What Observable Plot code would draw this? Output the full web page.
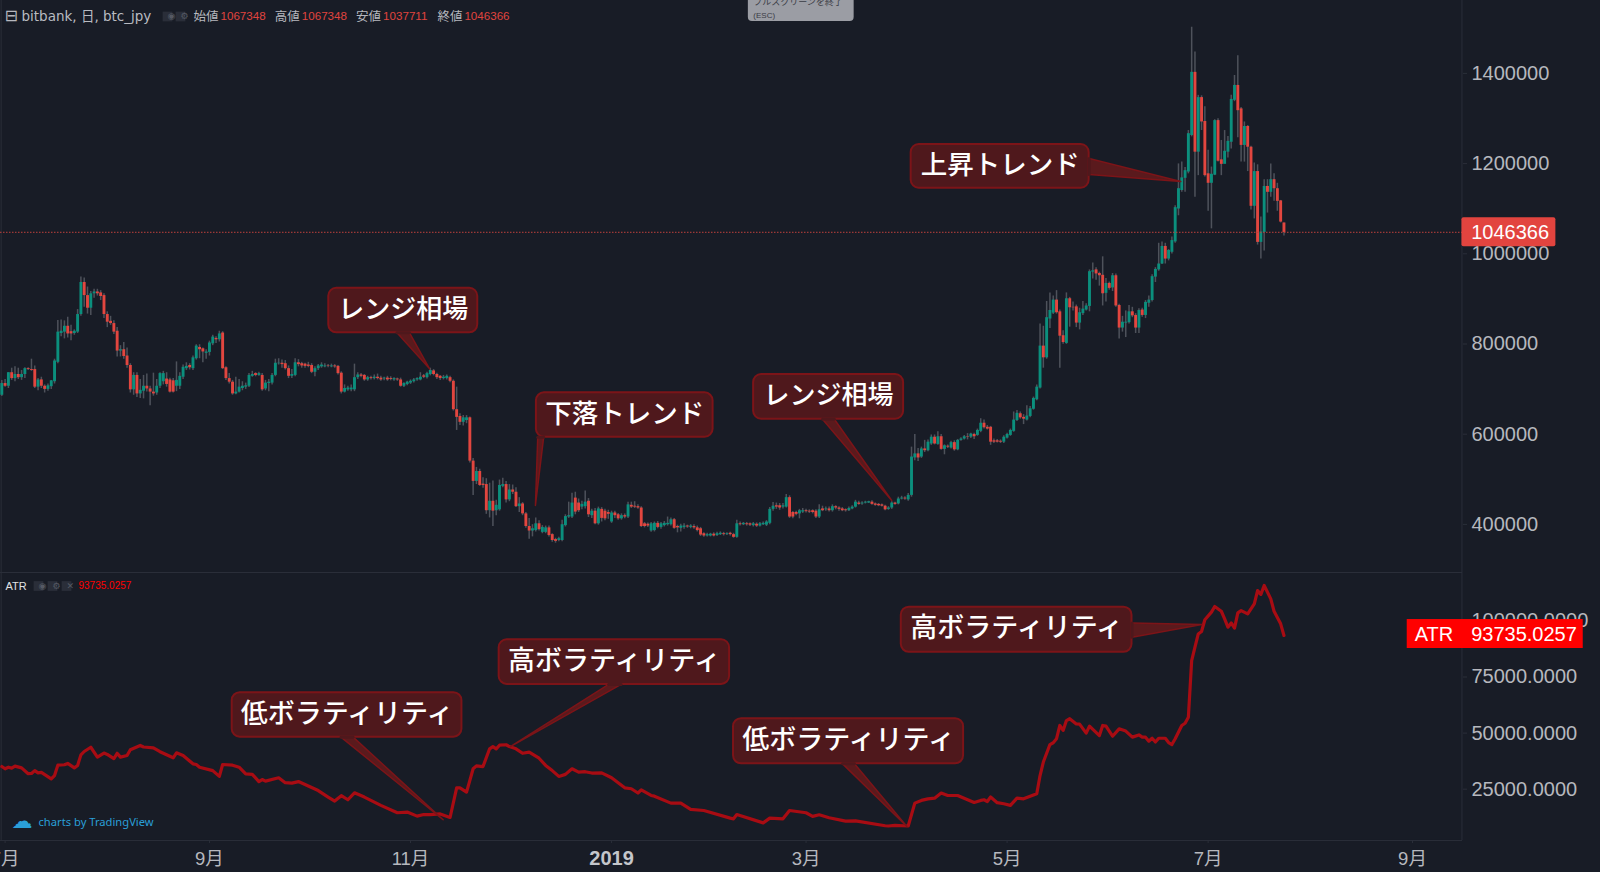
<!DOCTYPE html>
<html lang="ja">
<head>
<meta charset="utf-8">
<script src="https://cdn.jsdelivr.net/npm/d3@7"></script>
<script src="https://cdn.jsdelivr.net/npm/@observablehq/plot@0.6"></script>
<style>
html,body{margin:0;padding:0;background:#181c26;overflow:hidden}
svg{display:block}
</style>
</head>
<body>
<div id="chart"></div>
<script>
// OHLC in thousands of yen, one entry per day from 2018-06-30
const opens=[685,711,705,735,722,731,724,731,744,742,
742,703,719,705,698,704,715,758,822,825,
838,826,822,825,864,935,906,878,910,914,
912,906,864,849,844,827,783,786,772,751,
697,729,688,694,705,699,692,690,705,715,
721,719,717,705,705,725,744,751,744,766,
791,788,778,780,799,811,808,823,746,722,
714,688,692,700,703,705,727,733,729,729,
699,711,712,729,755,756,755,744,727,729,
757,755,754,752,751,736,744,748,748,750,
748,750,749,734,692,697,697,697,724,730,
729,719,724,722,725,723,721,723,722,719,
721,719,705,709,712,715,719,719,728,724,
731,739,731,727,722,722,724,716,653,638,
625,629,635,539,494,516,488,487,429,450,
429,431,483,487,453,475,470,438,444,422,
394,384,385,400,381,381,391,376,365,363,
363,396,415,415,457,446,437,438,450,418,
428,400,432,428,425,404,424,420,411,418,
415,441,439,438,435,400,399,384,385,401,
392,396,398,398,409,394,390,392,395,392,
394,391,389,378,373,373,377,374,376,378,
376,379,376,370,400,398,400,400,396,399,
395,398,397,401,432,440,440,437,437,458,
425,425,422,426,429,428,429,428,415,433,
431,433,429,438,435,433,431,429,433,437,
446,444,446,446,448,444,443,442,439,432,
435,446,444,455,457,453,463,546,555,548,
566,562,577,592,576,593,565,572,568,580,
564,585,588,593,592,598,596,605,623,614,
614,584,584,583,581,590,596,605,629,644,
636,630,638,654,675,701,794,768,854,867,
896,870,817,800,899,880,881,845,866,874,
882,958,963,955,951,911,933,923,950,884,
834,845,846,870,862,834,874,862,889,895,
947,963,976,1015,987,1002,1025,1098,1139,1166,
1180,1261,1401,1224,1345,1292,1176,1155,1173,1294,
1207,1197,1224,1246,1339,1372,1320,1239,1281,1235,
1104,1181,1024,1046,1148,1135,1163,1143,1116,1067];
const highs=[718,720,735,745,748,745,740,746,746,765,
750,722,725,708,710,718,765,851,852,850,
858,840,830,875,947,945,925,915,920,920,
917,910,870,860,850,835,795,802,790,755,
735,735,720,729,732,705,734,720,735,738,
735,723,722,759,735,752,757,755,772,797,
797,790,786,805,818,815,827,826,748,733,
718,725,720,715,712,733,738,735,736,733,
718,720,733,765,766,763,762,750,742,766,
764,758,756,758,755,748,753,757,755,753,
754,753,751,737,708,705,708,754,735,733,
731,727,727,730,732,727,725,727,726,724,
723,723,713,716,719,722,724,735,731,736,
745,742,734,729,729,730,727,719,703,644,
640,640,637,545,525,521,502,500,490,495,
452,497,501,494,487,486,480,458,447,425,
412,398,413,407,396,395,395,378,368,370,
408,420,448,468,470,455,450,473,456,432,
434,437,436,432,430,428,428,423,422,422,
448,448,449,442,438,403,402,403,404,405,
403,405,415,413,412,397,399,400,397,398,
398,395,392,380,379,379,380,381,382,381,
380,381,379,408,404,403,403,402,403,402,
403,404,407,436,447,446,445,445,465,462,
427,428,432,434,432,431,431,431,442,439,
437,437,442,440,438,436,433,437,440,452,
450,449,450,450,451,446,445,444,441,438,
449,448,459,461,460,467,570,598,567,570,
585,586,597,597,604,598,575,575,583,584,
587,591,596,600,601,601,610,633,630,618,
616,588,587,586,595,601,610,648,651,648,
642,662,660,681,708,843,838,893,912,905,
917,874,828,912,902,892,885,878,893,888,
963,978,968,958,992,944,936,955,954,887,
860,872,884,880,866,877,878,895,905,952,
968,1022,1025,1022,1008,1036,1105,1198,1202,1190,
1272,1501,1446,1350,1349,1325,1228,1191,1296,1298,
1250,1272,1259,1350,1394,1438,1323,1291,1283,1237,
1200,1196,1080,1163,1163,1198,1176,1155,1117,1067];
const lows=[682,703,700,718,715,720,718,722,740,738,
700,695,700,690,694,698,710,755,815,810,
812,806,818,822,860,880,865,862,900,905,
895,855,835,840,820,770,770,765,745,690,
685,680,678,677,692,662,683,685,700,708,
703,690,690,693,698,720,740,741,740,763,
766,757,765,772,795,800,803,742,718,710,
685,686,690,695,698,702,725,726,727,694,
695,693,708,726,752,745,741,722,722,726,
748,745,745,746,733,726,740,745,746,746,
746,745,730,688,690,694,693,693,720,724,
716,716,719,719,719,716,717,716,717,716,
716,703,702,706,709,712,716,717,722,721,
728,728,720,718,719,719,713,650,607,618,
617,622,535,463,487,483,479,421,413,394,
418,428,480,446,449,465,436,425,418,390,
366,371,382,384,378,378,371,359,357,360,
360,393,412,412,420,425,431,433,414,412,
398,397,404,407,410,401,412,408,408,411,
412,434,434,432,392,391,392,381,382,389,
388,393,395,395,388,380,382,388,390,389,
388,382,372,370,371,371,371,372,374,373,
374,373,368,368,395,396,395,394,393,392,
393,396,394,398,428,432,430,433,435,412,
411,418,411,423,424,423,422,412,412,427,
428,426,426,431,428,427,426,427,431,435,
441,441,444,445,441,439,438,437,429,430,
432,441,442,453,452,450,459,540,538,545,
558,560,574,575,574,563,553,567,566,561,
562,583,586,586,589,587,594,602,610,608,
574,578,579,578,578,588,594,603,627,632,
620,628,635,652,673,699,745,765,833,864,
865,745,798,798,836,872,835,830,862,872,
870,943,940,927,883,892,918,915,880,810,
825,813,843,857,822,822,858,855,880,892,
935,960,975,976,983,998,1022,1083,1135,1135,
1176,1258,1124,1172,1272,1169,1093,1054,1172,1202,
1172,1211,1211,1231,1336,1256,1202,1202,1181,1096,
1076,1018,987,1005,1089,1124,1115,1093,1067,1038];
const closes=[711,705,735,722,731,724,731,744,742,740,
703,719,705,698,706,717,761,825,827,838,
821,821,827,864,935,906,878,910,914,910,
904,864,847,844,825,783,786,771,751,697,
729,688,696,705,699,692,688,705,733,733,
709,692,692,718,727,747,749,746,768,794,
786,781,781,801,814,808,821,744,722,714,
688,692,703,705,706,729,731,729,733,697,
712,714,729,756,756,753,744,727,731,757,
753,750,749,749,736,744,750,752,750,749,
750,748,733,692,700,701,701,724,730,727,
719,724,722,725,722,719,723,719,720,722,
719,705,711,714,716,719,722,725,725,733,
740,731,724,722,725,727,716,653,636,625,
635,635,539,494,516,485,485,429,450,428,
441,485,487,453,475,470,438,444,422,394,
384,389,400,387,392,391,374,363,361,367,
398,416,418,446,426,429,443,448,420,428,
400,433,412,411,421,424,418,411,418,415,
442,437,437,435,394,394,395,400,401,392,
400,401,401,409,390,391,395,395,393,395,
391,385,375,373,376,377,373,378,379,376,
378,376,370,400,398,401,398,397,400,395,
400,401,404,432,439,437,435,440,458,415,
415,421,429,429,427,426,425,415,431,429,
433,429,438,435,432,429,429,434,437,448,
443,446,448,449,443,441,440,439,431,435,
446,443,455,457,455,463,548,555,546,566,
562,581,592,577,593,565,573,570,580,564,
585,588,593,592,599,593,607,623,613,610,
581,581,581,581,592,598,607,630,645,635,
632,639,655,678,703,794,768,857,873,896,
868,816,802,899,879,879,845,868,876,883,
959,961,954,950,910,933,922,950,883,834,
847,847,870,861,834,873,862,891,896,948,
964,976,1015,987,1006,1028,1101,1143,1167,1183,
1265,1401,1224,1345,1291,1172,1155,1175,1294,1204,
1197,1226,1248,1341,1372,1316,1239,1281,1235,1104,
1181,1024,1047,1148,1135,1163,1143,1115,1069,1046];
const lastClose=1046.366;
// ATR in thousands, read at the line's vertices (day index from 2018-06-30)
const atrDays=[0,1,2,3,4,6,8,9,10,11,12,15,16,17,19,20,22,23,24,25,27,29,31,32,34,35,36,38,39,42,43,46,48,52,53,55,58,59,60,64,66,67,70,72,74,76,78,79,80,84,86,88,90,96,99,101,103,105,107,110,115,120,123,126,128,130,133,136,138,139,141,143,144,146,
148,149,150,151,153,154,156,158,160,163,165,167,169,171,173,175,177,179,182,185,189,191,193,194,197,198,203,206,209,213,221,222,223,231,233,237,239,244,246,248,251,256,259,268,269,271,275,277,279,281,283,285,287,290,295,
297,298,299,300,302,304,306,308,310,314,315,316,318,319,320,321,322,323,324,326,327,329,330,333,334,335,337,339,341,343,345,346,347,348,349,350,351,353,354,355,356,358,359,360,361,362,363,364,365,367,368,370,371,372,373,374,375,376,378,380,381,382,383,385,386,388,389];
const atrValues=[35.1,34.1,34.8,34.4,35.3,34.5,31.9,32,33.3,32.3,32.5,29.6,31.1,35.7,35.9,36.5,34.5,35.6,40.3,41.8,43.7,39.3,41.1,40.5,38.6,41,39.3,40,42.6,44.5,43.8,43.4,41.7,39,41.2,40,36.3,36,34.8,33.3,30.7,36,35.7,34.8,31.8,31.6,28.4,29.3,28.6,30.1,27.9,27.7,28.4,24.4,21.5,19.7,22.1,20.3,23.4,21.5,17.8,14.5,14.8,13,13.7,13.7,14,12.4,25.6,25.6,23.7,34.1,35.4,35.1,
43,44,43,44.6,44.8,44,43,41,41.5,38.8,35.6,33.3,30.7,31.6,34.1,32.6,32.8,32.2,32.3,30.1,25.6,25.2,23.3,24.7,22.2,21.9,18.8,18.8,16,15.5,12.1,11.8,13.7,10,12.1,11.8,15.5,14.5,12.9,13.6,12.3,10.8,10.9,8.7,8.6,8.9,8.6,18.8,20,20.7,21,23.3,22.2,22.2,19.1,
20,20.3,19.5,21.5,19,18.5,17.8,21,20.7,23,31.1,37.1,44.9,45.7,47.5,53.4,51.2,55.6,56.4,54.1,54,50,53.1,48.9,53.4,53.1,48.6,51.9,50.9,48.2,49.2,48.2,48.2,46.4,47.7,46,47.7,47.7,45.8,44.9,47.5,53.4,54.4,57.1,82.3,88.3,94.2,95.3,100.5,103.9,106.4,104.3,100.9,97.2,99.1,96.8,103.6,104.6,103.1,107.6,113.5,111.8,115.8,109.8,104.3,98.7,93.5];
const priceTicks=[400,600,800,1000,1200,1400];
const atrTicks=[25,50,75,100];
const monthTicks=[[2018,6],[2018,8],[2018,10],[2019,2],[2019,4],[2019,6],[2019,8]];
const yearTick=[2019,0];
const headerLegend=[["始値","1067348"],["高値","1067348"],["安値","1037711"],["終値","1046366"]];
// callouts: box in (days from 2018-07-01, chart value), tail as base, tip, base
const priceCallouts=[
 {label:"レンジ相場",d:[98.2,143.4],v:[823.5,922.3],tail:[[118.9,823.5],[128.8,743.6],[122.7,823.5]]},
 {label:"下落トレンド",d:[161.2,214.8],v:[592,690.4],tail:[[161.6,592],[160.9,440.6],[163.4,592]]},
 {label:"レンジ相場",d:[227.1,272.6],v:[631.9,731],tail:[[248,631.9],[269,451.7],[251.6,631.9]]},
 {label:"上昇トレンド",d:[274.9,328.9],v:[1144,1240.9],tail:[[328.9,1209.9],[356.7,1158.9],[328.9,1174.4]]}];
const atrCallouts=[
 {label:"低ボラティリティ",d:[68.9,138.6],v:[48.2,68],tail:[[101.9,48.2],[132.9,11.4],[105.6,48.2]]},
 {label:"高ボラティリティ",d:[149.9,219.8],v:[71.7,91.6],tail:[[183.1,71.7],[153.3,44],[186.9,71.7]]},
 {label:"低ボラティリティ",d:[221,290.8],v:[36.3,56.4],tail:[[254.1,36.3],[273.6,8.4],[257.7,36.3]]},
 {label:"高ボラティリティ",d:[271.9,341.9],v:[86,106.1],tail:[[341.9,99.1],[363.1,98.4],[341.9,92.7]]}];

const BG="#181c26",GREEN="#0b8f7d",RED="#e2463f",GRID="#2a2e39",TXT="#b6b8be";
const SANS='"Liberation Sans","Noto Sans CJK JP",sans-serif';
const CJK='"Noto Sans CJK JP","Noto Sans",sans-serif';
const UI='"DejaVu Sans","Noto Sans CJK JP",sans-serif';
const candleDate=i=>new Date(Date.UTC(2018,5,30+i));
const dayDate=d=>new Date(Date.UTC(2018,6,1)+d*864e5);
const candles=opens.map((o,i)=>({date:candleDate(i),o,h:highs[i],l:lows[i],c:closes[i]}));
const atr=atrDays.map((d,i)=>({date:candleDate(d),v:atrValues[i]}));
const xScale=axis=>({type:"utc",domain:[new Date(Date.UTC(2018,6,1)),new Date(Date.UTC(2019,8,1))],range:[4.6,1412],axis});
const common={width:1600,marginLeft:0,marginRight:138,marginTop:0,style:{background:BG,display:"block",overflow:"hidden"}};
const labelSize=s=>s.length>=8?27:s.length===6?26.5:26;

function callout(c){
  const pts=c.tail.map(([d,v])=>({x:dayDate(d),y:v}));
  return [
    Plot.line(pts,{x:"x",y:"y",fill:"#5a1a1d",stroke:"#7c1418",strokeWidth:1.5}),
    Plot.rect([c],{x1:e=>dayDate(e.d[0]),x2:e=>dayDate(e.d[1]),y1:e=>e.v[0],y2:e=>e.v[1],rx:8,ry:8,fill:"#4f181c",stroke:"#7c1418",strokeWidth:2}),
    Plot.line([pts[0],pts[2]],{x:"x",y:"y",stroke:"#4f181c",strokeWidth:3}),
    Plot.text([c],{x:e=>dayDate((e.d[0]+e.d[1])/2),y:e=>(e.v[0]+e.v[1])/2,dy:-1,text:"label",fontSize:labelSize(c.label),fontWeight:500,fontFamily:CJK,fill:"#fff"})
  ];
}
const corner=(text,dx,dy,o={})=>Plot.text([text],{text:d=>d,frameAnchor:"top-left",dx,dy,textAnchor:"start",lineAnchor:"middle",fontFamily:UI,fontSize:12,fill:TXT,...o});
const chip=(dx,dy,r=5.5,fill="#2a2e39")=>Plot.dot([0],{frameAnchor:"top-left",dx,dy,symbol:"square",r,fill,stroke:"none"});
const chipGlyph=(glyph,dx,dy)=>Plot.text([glyph],{text:d=>d,frameAnchor:"top-left",dx,dy,lineAnchor:"middle",fontFamily:'"DejaVu Sans"',fontSize:9,fill:"#555963"});

const legendMarks=headerLegend.flatMap(([k,v],i)=>[
  corner(k,193+i*81.3,16,{fontFamily:CJK,fontSize:12.5}),
  corner(v,220+i*81.3,16,{fontFamily:SANS,fontSize:11.6,fill:"#e0443e"})
]);

const priceChart=Plot.plot({...common,height:573,marginBottom:0,
  x:xScale(null),
  y:{domain:[400,1400],range:[523.3,72.3]},
  marks:[
    Plot.ruleX([dayDate(-1.2)],{stroke:GRID}),
    Plot.ruleX([dayDate(442)],{stroke:GRID}),
    Plot.ruleY([292],{stroke:GRID}),
    Plot.ruleX(candles,{x:"date",y1:"l",y2:"h",stroke:"#4e525b",strokeWidth:1.5}),
    Plot.ruleX(candles,{x:"date",y1:"o",y2:"c",stroke:d=>d.c>=d.o?GREEN:RED,strokeWidth:2.9}),
    Plot.ruleY([lastClose],{stroke:"#c0403c",strokeDasharray:"1.5,1.5",strokeWidth:1}),
    ...priceCallouts.flatMap(callout),
    Plot.axisY({anchor:"right",ticks:priceTicks,tickFormat:d=>String(d*1000),tickSize:4,tickPadding:5,dy:.6,stroke:GRID,fill:TXT,fontSize:20,fontFamily:SANS,label:null}),
    Plot.rect([0],{x1:()=>dayDate(442),x2:()=>dayDate(470.5),y1:()=>lastClose-32,y2:()=>lastClose+32,fill:"#e2443f",rx:2}),
    Plot.text([Math.round(lastClose*1000)],{x:()=>dayDate(444.8),y:()=>lastClose,text:d=>String(d),textAnchor:"start",fontSize:20,fontFamily:SANS,fill:"#fff"}),
    Plot.rect([0],{x1:()=>dayDate(225.5),x2:()=>dayDate(257.6),y1:()=>1513.6,y2:()=>1575,fill:"#9b9da4",rx:4}),
    Plot.text(["フルスクリーンを終了"],{text:d=>d,x:()=>dayDate(227),y:()=>1556,textAnchor:"start",fontSize:9,fontFamily:CJK,fill:"#3a3c44"}),
    Plot.text(["(ESC)"],{text:d=>d,x:()=>dayDate(227),y:()=>1527,textAnchor:"start",fontSize:8,fontFamily:SANS,fill:"#3a3c44"}),
    corner("⊟",4,15,{fontFamily:'"DejaVu Sans"',fontSize:16}),
    corner("bitbank, 日, btc_jpy",21,16,{fontSize:13.5,fill:"#b9bbc1"}),
    chip(167,16),chip(180,16),chipGlyph("◉",167,16),chipGlyph("⚙",180,16),
    ...legendMarks
  ]});

const atrChart=Plot.plot({...common,height:299,marginBottom:32,
  x:xScale(undefined),
  y:{domain:[25,100],range:[215.7,47.4]},
  marks:[
    Plot.ruleX([dayDate(-1.2)],{stroke:GRID}),
    Plot.ruleX([dayDate(442)],{stroke:GRID}),
    Plot.ruleY([2.14],{stroke:GRID}),
    Plot.line(atr,{x:"date",y:"v",stroke:"#a80c13",strokeWidth:3.2,strokeLinejoin:"round"}),
    ...atrCallouts.flatMap(callout),
    Plot.axisY({anchor:"right",ticks:atrTicks,tickFormat:d=>(d*1000).toFixed(4),tickSize:4,tickPadding:5,stroke:GRID,fill:TXT,fontSize:20,fontFamily:SANS,label:null}),
    Plot.axisX({anchor:"bottom",ticks:monthTicks.map(([y,m])=>new Date(Date.UTC(y,m,1))),tickFormat:d=>`${d.getUTCMonth()+1}月`,tickSize:3,tickPadding:8,stroke:GRID,fill:TXT,fontSize:18.5,fontFamily:SANS,label:null}),
    Plot.axisX({anchor:"bottom",ticks:[new Date(Date.UTC(yearTick[0],yearTick[1],1))],tickFormat:d=>String(d.getUTCFullYear()),tickSize:3,tickPadding:7,stroke:GRID,fill:"#c4c6cb",fontSize:20,fontWeight:"bold",fontFamily:SANS,label:null}),
    Plot.rect([0],{x1:()=>dayDate(425.4),x2:()=>dayDate(478.8),y1:()=>87.7,y2:()=>100.6,fill:"#ff0000"}),
    Plot.text(["ATR"],{text:d=>d,x:()=>dayDate(433.5),y:()=>94.2,dy:.6,fontSize:20,fontFamily:SANS,fill:"#fff"}),
    Plot.text(["93735.0257"],{text:d=>d,x:()=>dayDate(444.8),y:()=>94.2,dy:.6,textAnchor:"start",fontSize:20,fontFamily:SANS,fill:"#fff"}),
    corner("ATR",5,12.5,{fontFamily:SANS,fontSize:11,fill:"#e0e1e4"}),
    chip(38,12.5),chip(52,12.5),chip(66,12.5),
    chipGlyph("◉",38,12.5),chipGlyph("⚙",52,12.5),chipGlyph("✕",66,12.5),
    corner("93735.0257",78,12.5,{fontFamily:SANS,fontSize:10,fill:"#ff0000"}),
    corner("☁",11,248,{fontFamily:'"DejaVu Sans"',fontSize:21,fill:"#2a9fd8"}),
    corner("charts by TradingView",38,249,{fontFamily:'"Noto Sans"',fontSize:11.2,fill:"#2a9fd8"})
  ]});

document.getElementById("chart").append(priceChart,atrChart);
</script>
</body>
</html>
